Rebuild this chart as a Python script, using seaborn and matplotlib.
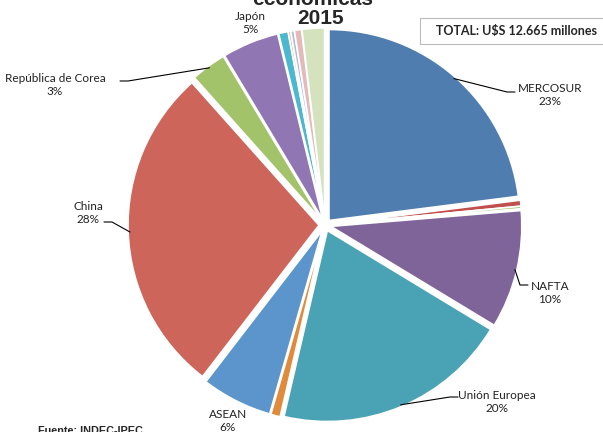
import numpy as np
import matplotlib.pyplot as plt
from matplotlib.patches import Rectangle
import seaborn as sns

sns.set_theme(style="white")
plt.rcParams['font.family'] = ['Lato', 'DejaVu Sans']

regions = ["MERCOSUR", "Chile", "Bolivia", "NAFTA", "Unión Europea", "Resto Europa",
           "ASEAN", "China", "República de Corea", "Japón", "India", "Medio Oriente",
           "Magreb", "Africa", "Resto"]
shares = [23.0, 0.5, 0.2, 10.0, 20.0, 0.8, 6.0, 28.0, 3.0, 4.8, 0.8, 0.2, 0.3, 0.6, 1.9]
colors = ["#4F7DB0", "#C0504D", "#9BBB59", "#7F6499", "#4AA3B5", "#E08A3C",
          "#5B95CB", "#CD655B", "#A3C36A", "#9077B4", "#4BB8D0", "#F5A54A",
          "#A8BCE0", "#E3B9B9", "#D4E2BE"]
label_pcts = {"MERCOSUR": "23%", "NAFTA": "10%", "Unión Europea": "20%", "ASEAN": "6%",
              "China": "28%", "República de Corea": "3%", "Japón": "5%"}
# text centre (axes data coords)
label_pos = {"MERCOSUR": (1.125, 0.65), "NAFTA": (1.125, -0.34), "Unión Europea": (0.86, -0.885),
             "ASEAN": (-0.485, -0.98), "China": (-1.185, 0.06), "República de Corea": (-1.35, 0.70),
             "Japón": (-0.375, 1.01)}
# leader line: elbow point, then short horizontal to the text
elbows = {"MERCOSUR": (0.91, 0.665), "NAFTA": (0.975, -0.30), "Unión Europea": (0.625, -0.86),
          "China": (-1.065, 0.015), "República de Corea": (-0.985, 0.72)}

fig = plt.figure(figsize=(6.03, 4.32), dpi=100)
ax = fig.add_axes([(325 - 200) / 603, (432 - 225 - 200) / 432, 400 / 603, 400 / 432])

wedges, _ = ax.pie(shares, colors=colors, startangle=90, counterclock=False,
                   explode=[0.03] * len(shares), radius=0.955,
                   wedgeprops=dict(edgecolor="white", linewidth=1.2))
ax.set_xlim(-1, 1)
ax.set_ylim(-1, 1)
ax.set_aspect("equal")

for w, name in zip(wedges, regions):
    if name not in label_pcts:
        continue
    tx, ty = label_pos[name]
    ax.text(tx, ty, f"{name}\n{label_pcts[name]}", ha="center", va="center",
            fontsize=8.5, color="#222222", linespacing=1.2)
    if name not in elbows:
        continue
    ang = np.deg2rad((w.theta1 + w.theta2) / 2)
    cx, cy = w.center
    px, py = cx + 0.99 * w.r * np.cos(ang), cy + 0.99 * w.r * np.sin(ang)
    exx, exy = elbows[name]
    step = 0.04 if tx > px else -0.04
    ax.plot([px, exx, exx + step], [py, exy, exy], color="black", lw=0.8, clip_on=False)

fig.text(0.519, 1.002, "económicas", ha="center", va="center", fontsize=15,
         fontweight="bold", family="Liberation Sans")
fig.text(0.532, 0.957, "2015", ha="center", va="center", fontsize=15,
         fontweight="bold", family="Liberation Sans")
fig.patches.append(Rectangle((420 / 603, (432 - 44) / 432), 0.31, 26 / 432,
                             transform=fig.transFigure, fc="white", ec="#BBBBBB", lw=0.8))
fig.text(0.857, 0.928, "TOTAL: U$S 12.665 millones", ha="center", va="center",
         fontsize=9, fontweight="bold")
fig.text(0.063, 0.002, "Fuente: INDEC-IPEC", ha="left", va="center", fontsize=7.8,
         fontweight="bold", family="Liberation Sans")

fig.savefig("out.png", dpi=100)
